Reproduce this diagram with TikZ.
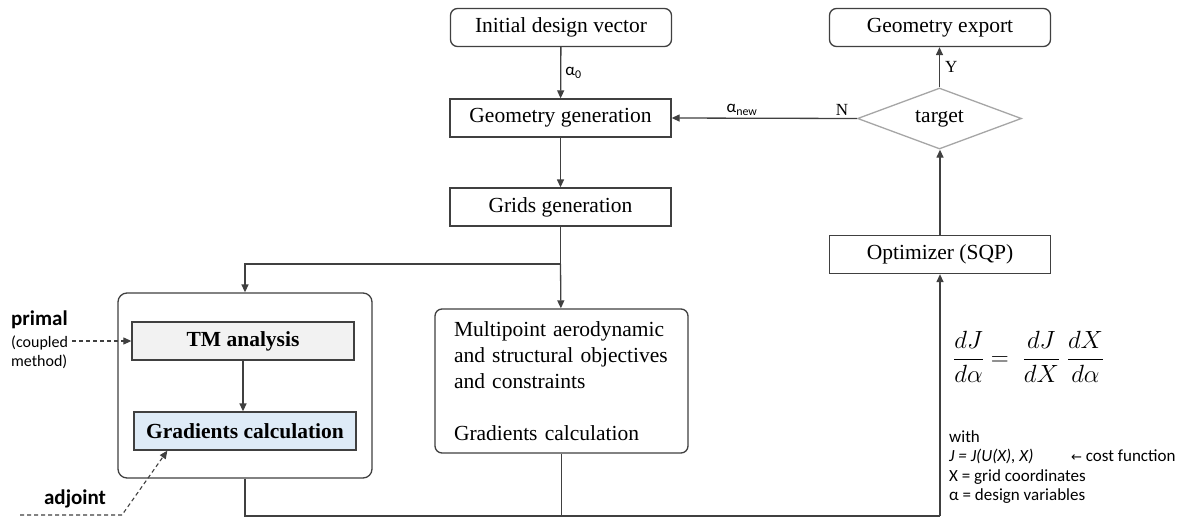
\documentclass[tikz,border=0pt]{standalone}
\usepackage{fontspec}
\setmainfont{Liberation Serif}
\newfontfamily\calibri{Carlito}
\newfontfamily\arrowfont{DejaVu Sans}
\usetikzlibrary{shapes.geometric,arrows.meta}
\definecolor{linec}{HTML}{404040}
\definecolor{diamc}{HTML}{A6A6A6}
\definecolor{tmfill}{HTML}{F2F2F2}
\definecolor{gradfill}{HTML}{DEEBF7}
\tikzset{
  stepbox/.style={draw=linec, line width=1.3pt, minimum width=221pt, minimum height=38pt,
    inner sep=0pt, font=\fontsize{21.5}{26}\selectfont},
  roundbox/.style={stepbox, rounded corners=7pt},
  tip/.style={-{Triangle[length=8pt,width=7pt]}},
  link/.style={draw=linec, line width=1.3pt},
  flow/.style={link, tip},
  dashlink/.style={draw=linec, line width=1.1pt, dash pattern=on 4pt off 3pt},
  lbl/.style={font=\calibri\fontsize{17}{20}\selectfont, inner sep=2pt},
  yn/.style={font=\fontsize{17}{20}\selectfont, inner sep=2pt},
}
\begin{document}
\begin{tikzpicture}[x=1pt,y=-1pt]
\useasboundingbox (0,0) rectangle (1179,520);
\fill[white] (0,0) rectangle (1179,520);

% main chain
\node[roundbox] (init) at (561,27.5) {Initial design vector};
\node[stepbox] (geo) at (560.5,118) {Geometry generation};
\node[stepbox] (grids) at (560.5,207) {Grids generation};

% optimisation loop
\node[roundbox] (export) at (940,27.5) {Geometry export};
\node[draw=diamc, line width=1.3pt, diamond, aspect=2.7, minimum width=164pt,
      minimum height=61pt, inner sep=0pt, font=\fontsize{21.5}{26}\selectfont] (target) at (939.5,118.5) {target};
\node[stepbox] (opt) at (940,254.5) {Optimizer (SQP)};

% coupled solver block
\node[draw=linec, line width=1.3pt, rounded corners=9pt, minimum width=254pt,
      minimum height=185pt] (solver) at (245,385.5) {};
\node[stepbox, fill=tmfill, minimum width=222pt, font=\bfseries\fontsize{21.5}{26}\selectfont] (tm) at (243,341) {TM analysis};
\node[stepbox, fill=gradfill, minimum width=222pt, font=\bfseries\fontsize{21.5}{26}\selectfont] (grad) at (245,431) {Gradients calculation};

% objectives block
\node[roundbox, minimum width=253pt, minimum height=144pt, text width=215pt, align=left] (multi) at (561.5,381)
  {Multipoint aerodynamic\\ and structural objectives\\ and constraints\\[26pt] Gradients calculation};

% side labels
\node[anchor=west, inner sep=0pt, font=\calibri\bfseries\fontsize{21}{24}\selectfont] (primal) at (11,320) {primal};
\node[anchor=west, inner sep=0pt, align=left, font=\calibri\fontsize{16}{19}\selectfont] (coupled) at (11,352.5) {(coupled\\method)};
\node[inner sep=0pt, font=\calibri\bfseries\fontsize{21}{24}\selectfont] (adjoint) at (75,499) {adjoint};

% sensitivity formula and legend
\node[anchor=west, inner sep=0pt, font=\fontsize{31}{36}\selectfont] (formula) at (953,357)
  {$\displaystyle \frac{dJ}{d\alpha} = \;\frac{dJ}{dX}\;\frac{dX}{d\alpha}$};
\node[anchor=north west, inner sep=0pt, align=left, font=\calibri\fontsize{17}{19.5}\selectfont] (legend) at (949,430)
  {with\\ \makebox[122pt][l]{\itshape J = J(U(X), X)}{\arrowfont\fontsize{13}{15}\selectfont ←} cost function\\ X = grid coordinates\\ α = design variables};

% connectors
\coordinate (split) at (560.5,264);
\coordinate (base) at (940,516);
\draw[flow] (init) -- (geo) node[midway, right, lbl, xshift=2pt] {α\textsubscript{0}};
\draw[flow] (geo) -- (grids);
\draw[link] (grids) -- (split);
\draw[flow] (split) -| (solver.north);
\draw[flow] (split) -- (multi);
\draw[flow] (tm.south) -- (tm.south |- grad.north);
\draw[link] (solver.south) -- (solver.south |- base) -- (base);
\draw[link] (multi.south) -- (multi.south |- base);
\draw[flow] (base) -- (opt.south);
\draw[flow] (opt.north) -- (opt.north |- target.south);
\draw[flow] (target.north) -- (target.north |- export.south) node[midway, right, yn, xshift=3pt] {Y};
\draw[flow] (target.west) -- (geo.east)
  node[pos=0.08, above, yn] {N}
  node[pos=0.62, above, lbl] {α\textsubscript{new}};

% dashed inputs
\coordinate (adjstart) at (20,515);
\coordinate (adjbend) at (122,515);
\draw[dashlink, tip] ([xshift=4pt]coupled.east |- tm.west) -- (tm.west);
\draw[dashlink, tip] (adjstart) -- (adjbend) -- ([xshift=34pt]grad.south west);
\end{tikzpicture}
\end{document}
